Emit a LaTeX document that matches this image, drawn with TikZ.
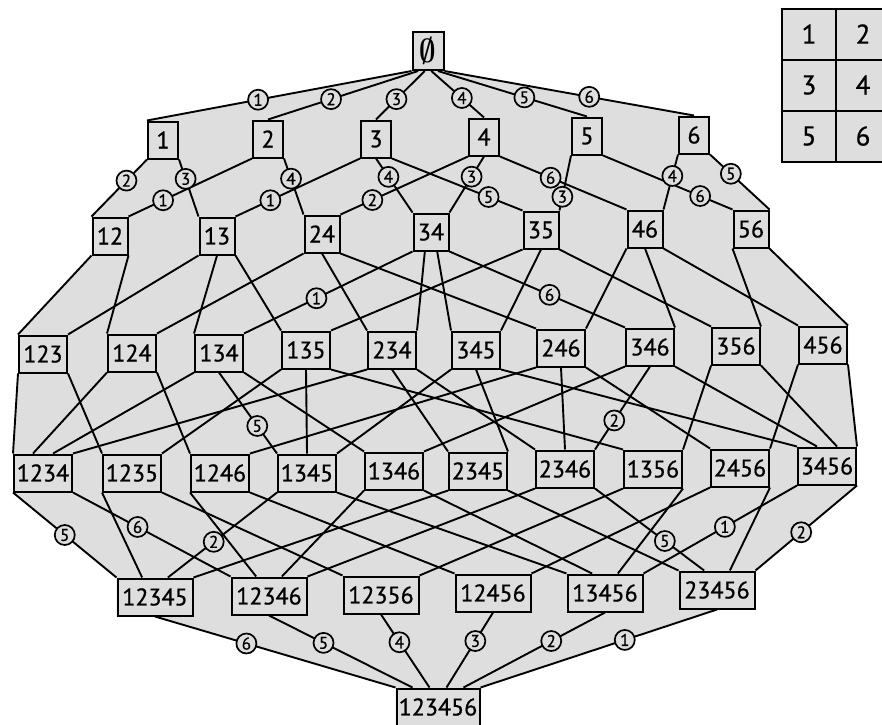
\documentclass[tikz,border=0pt]{standalone}
\usepackage{fontspec}
\usepackage{graphicx}
\setmainfont{PT Sans}
\newfontfamily\dfont{PT Sans}[FakeBold=0.8]
\usetikzlibrary{calc}
\pgfdeclarelayer{bg}\pgfdeclarelayer{fg}\pgfsetlayers{bg,main,fg}
\definecolor{bgc}{RGB}{222,222,222}
\tikzset{
  box/.style={draw, line width=2pt, fill=bgc, minimum height=37pt, inner xsep=2pt, inner ysep=0pt, font=\dfont\fontsize{24}{25}\selectfont},
  b0/.style={box, minimum width=31pt, minimum height=38pt},
  b1/.style={box, minimum width=30pt},
  b2/.style={box, minimum width=35pt},
  b3/.style={box, minimum width=48pt},
  b4/.style={box, minimum width=58pt},
  b5/.style={box, minimum width=75pt},
  b6/.style={box, minimum width=83pt},
  cell/.style={draw, line width=2pt, fill=bgc, minimum width=54pt, minimum height=51pt, inner sep=0pt, font=\dfont\fontsize{27}{28}\selectfont},
  edge/.style={line width=1.9pt, black},
  circ/.style={circle, draw, line width=1.7pt, fill=bgc, inner sep=0pt, minimum size=20pt, font=\dfont\fontsize{17}{17}\selectfont}
}
\newcommand\E[4]{\draw[edge] ($(#1.south west)!#2!(#1.south east)$) -- ($(#3.north west)!#4!(#3.north east)$);}
\newcommand\EL[6]{\draw[edge] ($(#1.south west)!#2!(#1.south east)$) -- coordinate[pos=#5] (tmp) ($(#3.north west)!#4!(#3.north east)$);
  \begin{pgfonlayer}{fg}\node[circ] (L#1-#3) at (tmp) {#6};\end{pgfonlayer}}
\begin{document}
\begin{tikzpicture}[x=1pt,y=-1pt]
\useasboundingbox (0,0) rectangle (882,724);
% legend
\node[cell] (g1) at (809,34) {1};
\node[cell] (g2) at (863,34) {2};
\node[cell] (g3) at (809,85) {3};
\node[cell] (g4) at (863,85) {4};
\node[cell] (g5) at (809,136) {5};
\node[cell] (g6) at (863,136) {6};
% nodes
\node[b0] (e) at (428,51) {\scalebox{1.15}[1.35]{\boldmath$\emptyset$}};
\node[b1] (n1) at (163,140) {1};
\node[b1] (n2) at (268,139) {2};
\node[b1] (n3) at (376,139) {3};
\node[b1] (n4) at (484,137) {4};
\node[b1] (n5) at (587,136) {5};
\node[b1] (n6) at (694,135) {6};
\node[b2] (n12) at (110,236) {12};
\node[b2] (n13) at (217,236) {13};
\node[b2] (n24) at (322,234) {24};
\node[b2] (n34) at (431,232) {34};
\node[b2] (n35) at (541,230) {35};
\node[b2] (n46) at (645,229) {46};
\node[b2] (n56) at (751,229) {56};
\node[b3] (n123) at (43,354) {123};
\node[b3] (n124) at (132,353) {124};
\node[b3] (n134) at (219,353) {134};
\node[b3] (n135) at (306,350) {135};
\node[b3] (n234) at (392,350) {234};
\node[b3] (n345) at (476,350) {345};
\node[b3] (n246) at (561,348) {246};
\node[b3] (n346) at (650,347) {346};
\node[b3] (n356) at (736,346) {356};
\node[b3] (n456) at (823,345) {456};
\node[b4] (n1234) at (43,473) {1234};
\node[b4] (n1235) at (132,473) {1235};
\node[b4] (n1246) at (220,473) {1246};
\node[b4] (n1345) at (307,473) {1345};
\node[b4] (n1346) at (394,471) {1346};
\node[b4] (n2345) at (478,471) {2345};
\node[b4] (n2346) at (565,469) {2346};
\node[b4] (n1356) at (653,469) {1356};
\node[b4] (n2456) at (740,468) {2456};
\node[b4] (n3456) at (827,466) {3456};
\node[b5] (n12345) at (155,597) {12345};
\node[b5] (n12346) at (269,596) {12346};
\node[b5] (n12356) at (381,595) {12356};
\node[b5] (n12456) at (493,593) {12456};
\node[b5] (n13456) at (605,593) {13456};
\node[b5] (n23456) at (717,590) {23456};
\node[b6] (n123456) at (438,707) {123456};
% background region
\begin{pgfonlayer}{bg}
\fill[bgc] (e.south west) -- (n1.north west) -- (n1.south west) -- (n12.north west) -- (n12.south west)
 -- (n123.north west) -- (n123.south west) -- (n1234.north west) -- (n1234.south west)
 -- (n12345.north west) -- (n12345.south west) -- (n12345.south) -- (n123456.north west)
 -- (n123456.south west) -- (n123456.south east) -- (n123456.north east) -- (n23456.south)
 -- (n23456.south east) -- (n23456.north east) -- (n3456.south east) -- (n3456.north east)
 -- (n456.south east) -- (n456.north east) -- (n56.south east) -- (n56.north east)
 -- (n6.south east) -- (n6.north east) -- (n6.north) -- (e.south east) -- cycle;
\end{pgfonlayer}
% level 0 -> 1
\EL{e}{0}{n1}{0}{.58}{1}
\EL{e}{.2}{n2}{.5}{.58}{2}
\EL{e}{.4}{n3}{.5}{.58}{3}
\EL{e}{.6}{n4}{.5}{.58}{4}
\EL{e}{.8}{n5}{.5}{.58}{5}
\EL{e}{1}{n6}{.5}{.58}{6}
% level 1 -> 2
\EL{n1}{0}{n12}{0}{.37}{2}
\EL{n1}{1}{n13}{0}{.34}{3}
\EL{n2}{0}{n12}{1}{.72}{1}
\EL{n2}{1}{n24}{0}{.36}{4}
\EL{n3}{0}{n13}{1}{.72}{1}
\EL{n3}{.5}{n34}{0}{.34}{4}
\EL{n3}{1}{n35}{0}{.74}{5}
\EL{n4}{0}{n24}{1}{.75}{2}
\EL{n4}{.5}{n34}{1}{.36}{3}
\EL{n4}{1}{n46}{0}{.4}{6}
\EL{n5}{0}{n35}{1}{.75}{3}
\EL{n5}{1}{n56}{0}{.75}{6}
\EL{n6}{0}{n46}{1}{.39}{4}
\EL{n6}{1}{n56}{1}{.35}{5}
% level 2 -> 3
\E{n12}{0}{n123}{0}
\E{n12}{1}{n124}{0}
\E{n13}{0}{n123}{1}
\E{n13}{.5}{n134}{0}
\E{n13}{1}{n135}{0}
\E{n24}{0}{n124}{1}
\E{n24}{.5}{n234}{0}
\E{n24}{1}{n246}{0}
\EL{n34}{0}{n134}{1}{.57}{1}
\E{n34}{.333}{n234}{1}
\E{n34}{.667}{n345}{0}
\EL{n34}{1}{n346}{0}{.57}{6}
\E{n35}{0}{n135}{1}
\E{n35}{.5}{n345}{1}
\E{n35}{1}{n356}{0}
\E{n46}{0}{n246}{1}
\E{n46}{.5}{n346}{1}
\E{n46}{1}{n456}{0}
\E{n56}{0}{n356}{1}
\E{n56}{1}{n456}{1}
% level 3 -> 4
\E{n123}{0}{n1234}{0}
\E{n123}{1}{n1235}{0}
\E{n124}{0}{n1234}{.333}
\E{n124}{1}{n1246}{0}
\E{n134}{0}{n1234}{.667}
\EL{n134}{.5}{n1345}{0}{.66}{5}
\E{n134}{1}{n1346}{0}
\E{n135}{0}{n1235}{1}
\E{n135}{.5}{n1345}{.5}
\E{n135}{1}{n1356}{0}
\E{n234}{0}{n1234}{1}
\E{n234}{.5}{n2345}{0}
\E{n234}{1}{n2346}{0}
\E{n345}{0}{n1345}{1}
\E{n345}{.5}{n2345}{1}
\E{n345}{1}{n3456}{0}
\E{n246}{0}{n1246}{1}
\E{n246}{.5}{n2346}{.5}
\E{n246}{1}{n2456}{0}
\E{n346}{0}{n1346}{1}
\EL{n346}{.5}{n2346}{1}{.65}{2}
\E{n346}{1}{n3456}{.333}
\E{n356}{0}{n1356}{1}
\E{n356}{1}{n3456}{.667}
\E{n456}{0}{n2456}{1}
\E{n456}{1}{n3456}{1}
% level 4 -> 5
\EL{n1234}{0}{n12345}{0}{.5}{5}
\EL{n1234}{1}{n12346}{0}{.41}{6}
\E{n1235}{0}{n12345}{.333}
\E{n1235}{1}{n12356}{0}
\E{n1246}{0}{n12346}{.333}
\E{n1246}{1}{n12456}{0}
\EL{n1345}{0}{n12345}{.667}{.58}{2}
\E{n1345}{1}{n13456}{0}
\E{n1346}{0}{n12346}{.667}
\E{n1346}{1}{n13456}{.333}
\E{n2345}{0}{n12345}{1}
\E{n2345}{1}{n23456}{0}
\E{n2346}{0}{n12346}{1}
\EL{n2346}{1}{n23456}{.333}{.64}{5}
\E{n1356}{0}{n12356}{1}
\E{n1356}{1}{n13456}{.667}
\E{n2456}{0}{n12456}{1}
\E{n2456}{1}{n23456}{.667}
\EL{n3456}{0}{n13456}{1}{.47}{1}
\EL{n3456}{1}{n23456}{1}{.55}{2}
% level 5 -> 6
\EL{n12345}{.5}{n123456}{0}{.38}{6}
\EL{n12346}{.5}{n123456}{.2}{.38}{5}
\EL{n12356}{.5}{n123456}{.4}{.38}{4}
\EL{n12456}{.5}{n123456}{.6}{.38}{3}
\EL{n13456}{.5}{n123456}{.8}{.38}{2}
\EL{n23456}{.5}{n123456}{1}{.39}{1}
\end{tikzpicture}
\end{document}
